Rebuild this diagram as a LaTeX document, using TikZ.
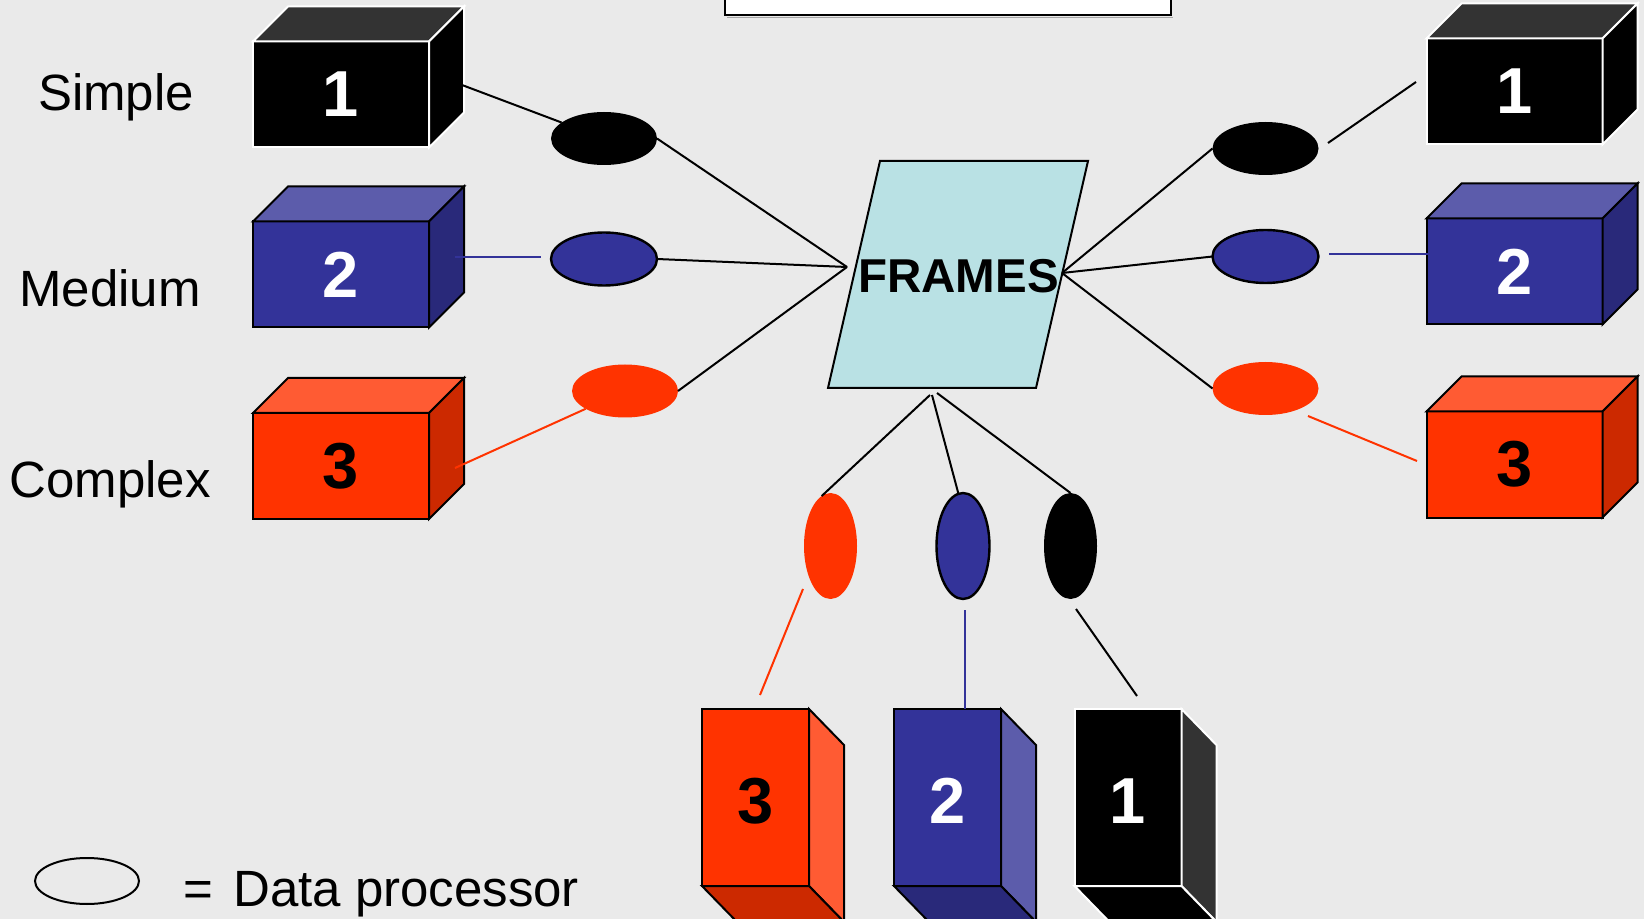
\documentclass[tikz,border=0pt]{standalone}
\usepackage{fontspec}
\setmainfont{Liberation Sans}
\usetikzlibrary{shapes.geometric}

\definecolor{bg}{RGB}{234,234,234}
\definecolor{redfront}{RGB}{255,51,0}
\definecolor{redlight}{RGB}{255,91,51}
\definecolor{reddark}{RGB}{204,41,0}
\definecolor{bluefront}{RGB}{51,51,153}
\definecolor{bluelight}{RGB}{92,92,171}
\definecolor{bluedark}{RGB}{41,41,122}
\definecolor{greyface}{RGB}{51,51,51}
\definecolor{framefill}{RGB}{185,225,228}

% lying box: front face node #1 at (#2,#3); depth goes up and to the right
% #4 front, #5 top, #6 side, #7 edge colour, #8 digit colour, #9 digit
\newcommand{\lyingbox}[9]{%
  \node[cubefront, fill=#4, draw=#7, text=#8] (#1) at (#2,#3) {#9};
  \filldraw[faceline, fill=#5, draw=#7] (#1.north west) -- ++(35,-35) -- ++(176,0) -- (#1.north east) -- cycle;
  \filldraw[faceline, fill=#6, draw=#7] (#1.north east) -- ++(35,-35) -- ++(0,106) -- (#1.south east) -- cycle;
}
% standing box: depth goes down and to the right
% #4 front, #5 side, #6 bottom, #7 edge colour, #8 digit colour, #9 digit
\newcommand{\standingbox}[9]{%
  \node[tallfront, fill=#4, draw=#7, text=#8] (#1) at (#2,#3) {#9};
  \filldraw[faceline, fill=#5, draw=#7] (#1.north east) -- ++(35,36) -- ++(0,177) -- (#1.south east) -- cycle;
  \filldraw[faceline, fill=#6, draw=#7] (#1.south west) -- (#1.south east) -- ++(35,36) -- ++(-107,0) -- cycle;
}

\begin{document}
\begin{tikzpicture}[x=0.5pt,y=-0.5pt,
  digitfont/.style={font=\fontsize{32.5}{32.5}\selectfont\bfseries},
  cubefront/.style={rectangle, inner sep=0pt, outer sep=0pt, minimum width=88pt,
    minimum height=53pt, line width=1pt, digitfont},
  tallfront/.style={rectangle, inner sep=0pt, outer sep=0pt, minimum width=53.5pt,
    minimum height=88.5pt, line width=1pt, text height=25.5pt, text depth=0pt, digitfont},
  faceline/.style={line width=1pt, line join=miter},
  proc/.style={ellipse, inner sep=0pt, outer sep=0pt},
  wideproc/.style={proc, minimum width=53pt, minimum height=26.5pt},
  tallproc/.style={proc, minimum width=26.5pt, minimum height=53pt},
  outlined/.style={draw=black, line width=1.2pt},
  link/.style={line width=1pt},
  label/.style={font=\fontsize{25.5}{25.5}\selectfont, anchor=base}
]
\useasboundingbox (0,0) rectangle (1644,919);
\clip (0,0) rectangle (1644,919);
\fill[bg] (0,0) rectangle (1644,919);

% title box cut by the top edge
\draw[gray!70, line width=0.6pt] (727,17.5) -- (1173,17.5);
\draw[line width=1pt, fill=white] (725,-10) rectangle (1171,15);

% category labels
\node[label] (simple) at (116,111) {Simple};
\node[label] (medium) at (110,307) {Medium};
\node[label] (complex) at (110,498) {Complex};

% left boxes
\lyingbox{L1}{341}{94.5}{black}{greyface}{black}{white}{white}{1}
\lyingbox{L2}{341}{274.5}{bluefront}{bluelight}{bluedark}{black}{white}{2}
\lyingbox{L3}{341}{466}{redfront}{redlight}{reddark}{black}{black}{3}

% right boxes
\lyingbox{R1}{1514.5}{91.5}{black}{greyface}{black}{white}{white}{1}
\lyingbox{R2}{1514.5}{271.5}{bluefront}{bluelight}{bluedark}{black}{white}{2}
\lyingbox{R3}{1514.5}{464.5}{redfront}{redlight}{reddark}{black}{black}{3}

% bottom boxes
\standingbox{B3}{755.5}{797.5}{redfront}{redlight}{reddark}{black}{black}{3}
\standingbox{B2}{947.5}{797.5}{bluefront}{bluelight}{bluedark}{black}{white}{2}
\standingbox{B1}{1128}{797.5}{black}{greyface}{black}{white}{white}{1}

% central frames store
\draw[line width=1pt, fill=framefill] (880,161) -- (1088,161) -- (1036,388) -- (828,388) -- cycle;
\node[font=\fontsize{23.75}{23.75}\selectfont\bfseries, anchor=base] (frames) at (958.5,293) {FRAMES};
\coordinate (fL) at (847,267);
\coordinate (fR) at (1062,273);
\coordinate (fb1) at (930,395);
\coordinate (fb2) at (932,395);
\coordinate (fb3) at (937,393);

% data processors
\node[wideproc, fill=black] (e1) at (604,138.5) {};
\node[wideproc, fill=bluefront, outlined] (e2) at (604,259) {};
\node[wideproc, fill=redfront] (e3) at (625,391) {};
\node[wideproc, fill=black] (e4) at (1265.5,148.5) {};
\node[wideproc, fill=bluefront, outlined] (e5) at (1265.5,256.5) {};
\node[wideproc, fill=redfront] (e6) at (1265.5,388.5) {};
\node[tallproc, fill=redfront] (e7) at (830.5,546) {};
\node[tallproc, fill=bluefront, outlined] (e8) at (963,546) {};
\node[tallproc, fill=black] (e9) at (1070.5,546) {};

% left connectors
\coordinate (a1) at (462,85);
\draw[link] (a1) -- (e1);
\coordinate (a2s) at (455,257);
\coordinate (a2e) at (541,257);
\draw[link, bluefront] (a2s) -- (a2e);
\coordinate (a3) at (455,468);
\draw[link, redfront] (a3) -- (e3);
\draw[link] (e1.east) -- (fL);
\draw[link] (e2.east) -- (fL);
\draw[link] (e3.east) -- (fL);

% right connectors
\draw[link] (fR) -- (e4.west);
\draw[link] (fR) -- (e5.west);
\draw[link] (fR) -- (e6.west);
\coordinate (r1s) at (1328,143);
\coordinate (r1e) at (1416,82);
\draw[link] (r1s) -- (r1e);
\coordinate (r2s) at (1329,254);
\coordinate (r2e) at (1428,254);
\draw[link, bluefront] (r2s) -- (r2e);
\coordinate (r3s) at (1308,416);
\coordinate (r3e) at (1417,461);
\draw[link, redfront] (r3s) -- (r3e);

% bottom connectors
\draw[link] (fb1) -- (e7.100);
\draw[link] (fb2) -- (e8.95);
\draw[link] (fb3) -- (e9.north);
\coordinate (d3s) at (803,589);
\coordinate (d3e) at (760,695);
\draw[link, redfront] (d3s) -- (d3e);
\coordinate (d2s) at (965,610);
\draw[link, bluefront] (d2s) -- (d2s |- B2.north);
\coordinate (d1s) at (1076,609);
\coordinate (d1e) at (1137,696);
\draw[link] (d1s) -- (d1e);

% legend
\node[proc, draw=black, line width=1pt, minimum width=52pt, minimum height=23pt] (key) at (87,881) {};
\node[label, anchor=base west] (keytext) at (176,906) {=\hspace{0.4em}Data processor};
\end{tikzpicture}
\end{document}
